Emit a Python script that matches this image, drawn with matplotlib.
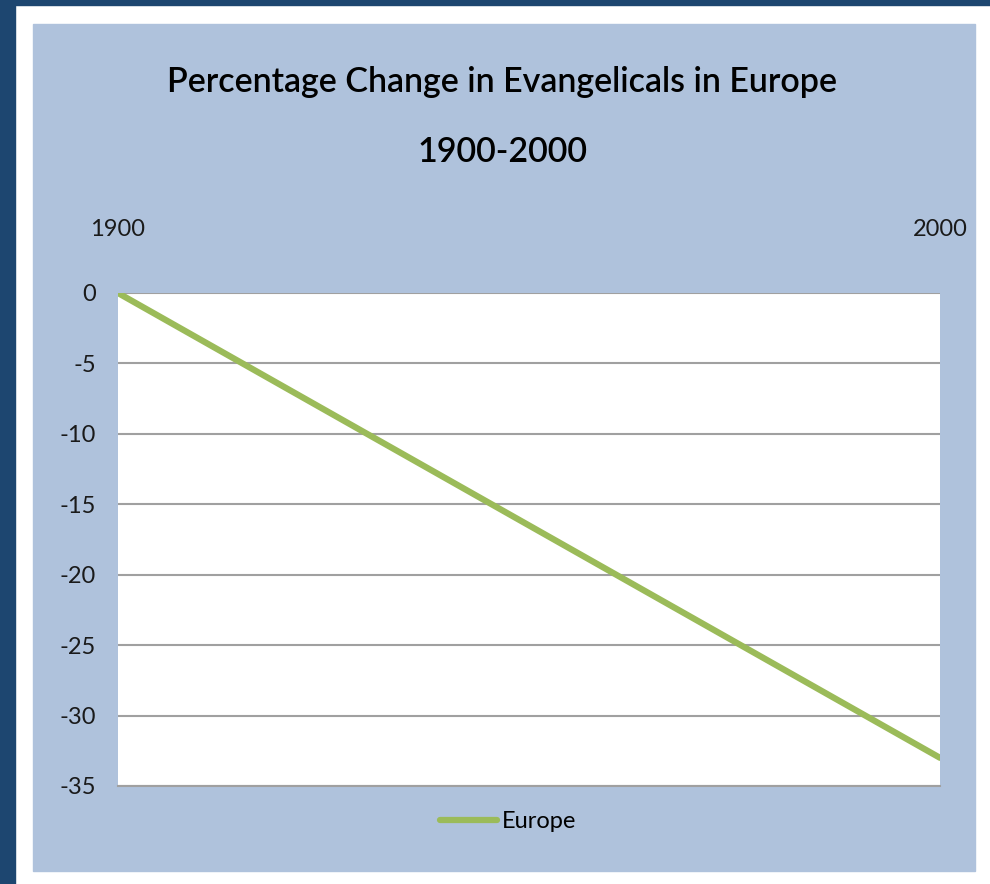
import matplotlib
matplotlib.use("Agg")
import matplotlib.pyplot as plt
from matplotlib.patches import Rectangle

# data
years = [1900, 2000]
europe = [0, -33]
y_ticks = [0, -5, -10, -15, -20, -25, -30, -35]
title_lines = ["Percentage Change in Evangelicals in Europe", "1900-2000"]
series_name = "Europe"

plt.rcParams['font.family'] = ['Lato', 'DejaVu Sans']

W, H = 990, 884
fig = plt.figure(figsize=(W / 100, H / 100), dpi=100)
fig.patch.set_facecolor("white")

def px(x, y, w, h):
    # pixel box (from top-left) -> figure fraction rect
    return (x / W, 1 - (y + h) / H, w / W, h / H)

def box(x, y, w, h, color):
    r = px(x, y, w, h)
    fig.patches.append(Rectangle(r[:2], r[2], r[3], transform=fig.transFigure,
                                 color=color, zorder=-5))

# dark slide border on top and left, then light blue chart area
box(0, 0, W, 5, "#1d4670")
box(0, 0, 15, H, "#1d4670")
box(33, 24, 942, 847, "#afc2dc")

ax = fig.add_axes(px(118, 293, 822, 493))
ax.set_zorder(2)
ax.set_facecolor("white")
ax.plot(years, europe, color="#9bbb59", lw=4.5, solid_capstyle="round",
        label=series_name, zorder=3)

ax.set_xlim(1900, 2000)
ax.set_ylim(-35, 0)
ax.set_yticks(y_ticks)
ax.set_yticklabels([str(v) for v in y_ticks])
ax.yaxis.grid(True, color="#a0a0a0", lw=1.5)
ax.set_axisbelow(True)

ax.xaxis.tick_top()
ax.set_xticks(years)
ax.set_xticklabels([str(v) for v in years])
ax.tick_params(axis="x", length=0, pad=38, labelsize=17, labelcolor="#1a1a1a")
ax.tick_params(axis="y", length=0, pad=16, labelsize=17, labelcolor="#1a1a1a")

for s in ["left", "right", "top"]:
    ax.spines[s].set_visible(False)
ax.spines["bottom"].set_color("#a0a0a0")
ax.spines["bottom"].set_linewidth(1.5)

# title, two lines placed separately
fig.text(502 / W, 1 - 82 / H, title_lines[0], ha="center", va="center",
         fontsize=24.5, fontweight="semibold", color="black")
fig.text(502 / W, 1 - 152 / H, title_lines[1], ha="center", va="center",
         fontsize=24.5, fontweight="semibold", color="black")

leg = fig.legend(loc="center", bbox_to_anchor=(508 / W, 1 - 822 / H), frameon=False,
                 fontsize=17, handlelength=2.4, handletextpad=0.2)
leg.set_zorder(3)

fig.savefig("out.png", dpi=100)
